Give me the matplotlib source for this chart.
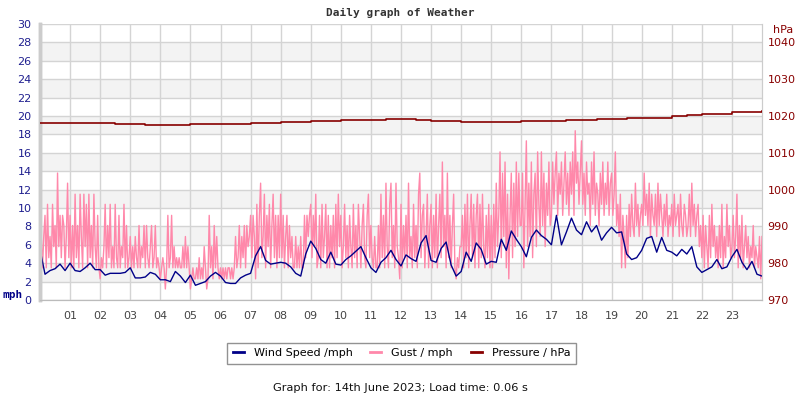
import numpy as np
import matplotlib.pyplot as plt
from matplotlib.lines import Line2D

# Ветер, mph, каждые 10 минут (6 значений на час) + конечная точка
wind_speed = [
    5.5, 2.8, 3.2, 3.4, 3.9, 3.2,
    4.0, 3.2, 3.1, 3.5, 4.0, 3.3,
    3.3, 2.7, 2.9, 2.9, 2.9, 3.0,
    3.5, 2.4, 2.4, 2.5, 3.0, 2.8,
    2.2, 2.2, 2.0, 3.1, 2.6, 1.9,
    2.7, 1.6, 1.8, 2.0, 2.6, 3.0,
    2.6, 1.9, 1.8, 1.8, 2.4, 2.7,
    2.9, 4.8, 5.8, 4.3, 3.9, 4.0,
    4.1, 4.0, 3.6, 2.9, 2.6, 5.0,
    6.4, 5.6, 4.4, 4.0, 5.2, 3.9,
    3.8, 4.4, 4.8, 5.3, 5.8, 4.6,
    3.5, 3.0, 4.1, 4.6, 5.4, 4.4,
    3.7, 4.9, 4.5, 4.2, 6.2, 7.0,
    4.3, 4.1, 5.6, 6.3, 3.8, 2.6,
    3.1, 5.2, 4.2, 6.2, 5.5, 3.9,
    4.2, 4.1, 6.6, 5.4, 7.5, 6.6,
    5.8, 4.7, 6.8, 7.6, 7.0, 6.6,
    6.0, 9.2, 6.0, 7.4, 8.9, 7.6,
    7.1, 8.5, 7.4, 8.1, 6.5, 7.3,
    7.9, 7.3, 7.4, 5.0, 4.4, 4.6,
    5.4, 6.7, 6.9, 5.2, 6.8, 5.4,
    5.2, 4.8, 5.5, 5.0, 5.8, 3.6,
    3.0, 3.3, 3.6, 4.4, 3.4, 3.6,
    4.7, 5.5, 4.1, 3.3, 4.2, 2.8,
    2.6,
]

# Порывы, mph, каждые 2.5 минуты (24 значения на час) + конечная точка
gust = [
    9.2, 6.9, 3.5, 6.9, 9.2, 3.5, 10.4, 4.6, 6.9, 3.5, 10.4, 5.8, 8.1, 3.5, 13.8, 5.8, 9.2, 4.6, 9.2, 8.1, 3.5, 6.9, 12.7, 4.6,
    9.2, 3.5, 8.1, 3.5, 11.5, 4.6, 8.1, 3.5, 11.5, 6.9, 3.5, 11.5, 5.8, 10.4, 3.5, 11.5, 4.6, 8.1, 3.5, 11.5, 5.8, 3.5, 9.2, 3.5,
    2.3, 4.6, 3.5, 5.8, 10.4, 3.5, 8.1, 4.6, 10.4, 3.5, 5.8, 3.5, 10.4, 4.6, 3.5, 9.2, 3.5, 5.8, 4.6, 10.4, 3.5, 8.1, 3.5, 4.6,
    6.9, 3.5, 5.8, 3.5, 6.9, 4.6, 3.5, 8.1, 3.5, 5.8, 4.6, 8.1, 3.5, 8.1, 4.6, 3.5, 5.8, 8.1, 3.5, 4.6, 8.1, 3.5, 4.6, 3.5,
    2.3, 3.5, 4.6, 3.5, 1.2, 3.5, 9.2, 3.5, 4.6, 9.2, 3.5, 5.8, 3.5, 4.6, 3.5, 4.6, 3.5, 3.5, 5.8, 3.5, 6.9, 3.5, 5.8, 3.5,
    1.2, 2.3, 3.5, 2.3, 2.3, 3.5, 2.3, 4.6, 2.3, 3.5, 2.3, 5.8, 3.5, 1.2, 2.3, 9.2, 3.5, 5.8, 2.3, 8.1, 3.5, 6.9, 3.5, 2.3,
    3.5, 2.3, 3.5, 2.3, 3.5, 2.3, 3.5, 3.5, 2.3, 3.5, 2.3, 3.5, 6.9, 3.5, 4.6, 8.1, 3.5, 6.9, 4.6, 8.1, 3.5, 8.1, 5.8, 6.9,
    9.2, 4.6, 9.2, 6.9, 2.3, 10.4, 3.5, 9.2, 12.7, 4.6, 6.9, 11.5, 3.5, 9.2, 5.8, 10.4, 3.5, 8.1, 11.5, 4.6, 9.2, 3.5, 9.2, 4.6,
    11.5, 4.6, 9.2, 3.5, 6.9, 9.2, 3.5, 8.1, 4.6, 6.9, 3.5, 3.5, 6.9, 3.5, 5.8, 3.5, 6.9, 3.5, 3.5, 9.2, 4.6, 9.2, 6.9, 9.2,
    10.4, 4.6, 9.2, 5.8, 11.5, 3.5, 4.6, 9.2, 3.5, 10.4, 4.6, 6.9, 10.4, 3.5, 9.2, 3.5, 8.1, 4.6, 9.2, 3.5, 10.4, 4.6, 11.5, 5.8,
    9.2, 3.5, 5.8, 10.4, 4.6, 8.1, 3.5, 9.2, 5.8, 3.5, 10.4, 4.6, 8.1, 3.5, 10.4, 6.9, 3.5, 8.1, 10.4, 4.6, 3.5, 9.2, 11.5, 4.6,
    8.1, 4.6, 3.5, 6.9, 3.5, 3.5, 8.1, 3.5, 11.5, 4.6, 9.2, 3.5, 12.7, 5.8, 3.5, 10.4, 12.7, 4.6, 8.1, 3.5, 12.7, 5.8, 4.6, 2.3,
    10.4, 3.5, 8.1, 4.6, 9.2, 3.5, 12.7, 4.6, 6.9, 3.5, 10.4, 4.6, 8.1, 3.5, 11.5, 13.8, 4.6, 9.2, 10.4, 3.5, 6.9, 11.5, 3.5, 8.1,
    10.4, 3.5, 9.2, 4.6, 11.5, 3.5, 8.1, 11.5, 4.6, 15.0, 5.8, 9.2, 3.5, 13.8, 4.6, 9.2, 3.5, 8.1, 11.5, 3.5, 2.3, 4.6, 3.5, 5.8,
    5.8, 9.2, 3.5, 10.4, 4.6, 11.5, 3.5, 8.1, 11.5, 4.6, 10.4, 3.5, 9.2, 11.5, 3.5, 10.4, 4.6, 11.5, 5.8, 3.5, 9.2, 4.6, 10.4, 3.5,
    9.2, 3.5, 10.4, 4.6, 12.7, 5.8, 9.2, 16.1, 4.6, 13.8, 6.9, 15.0, 3.5, 11.5, 2.3, 9.2, 13.8, 4.6, 12.7, 5.8, 15.0, 6.9, 13.8, 8.1,
    8.1, 13.8, 3.5, 10.4, 17.3, 5.8, 12.7, 6.9, 15.0, 4.6, 11.5, 13.8, 5.8, 16.1, 10.4, 6.9, 16.1, 8.1, 13.8, 5.8, 12.7, 9.2, 15.0, 8.1,
    9.2, 15.0, 10.4, 13.8, 16.1, 9.2, 13.8, 11.5, 15.0, 9.2, 12.7, 16.1, 10.4, 13.8, 9.2, 15.0, 11.5, 16.1, 9.2, 18.4, 12.7, 15.0, 10.4, 13.8,
    17.3, 10.4, 13.8, 9.2, 15.0, 11.5, 12.7, 8.1, 15.0, 10.4, 16.1, 9.2, 12.7, 11.5, 8.1, 13.8, 10.4, 15.0, 9.2, 12.7, 10.4, 15.0, 9.2, 12.7,
    13.8, 9.2, 11.5, 16.1, 8.1, 10.4, 6.9, 11.5, 3.5, 9.2, 6.9, 3.5, 9.2, 4.6, 10.4, 6.9, 11.5, 8.1, 6.9, 12.7, 8.1, 10.4, 6.9, 9.2,
    10.4, 8.1, 13.8, 9.2, 11.5, 8.1, 12.7, 6.9, 11.5, 9.2, 8.1, 11.5, 6.9, 12.7, 8.1, 11.5, 9.2, 6.9, 10.4, 8.1, 11.5, 6.9, 9.2, 8.1,
    10.4, 6.9, 11.5, 8.1, 9.2, 10.4, 6.9, 11.5, 8.1, 6.9, 10.4, 9.2, 6.9, 8.1, 11.5, 6.9, 12.7, 8.1, 10.4, 6.9, 9.2, 10.4, 5.8, 8.1,
    4.6, 9.2, 3.5, 8.1, 5.8, 3.5, 9.2, 4.6, 10.4, 5.8, 8.1, 4.6, 6.9, 3.5, 8.1, 4.6, 10.4, 3.5, 6.9, 4.6, 10.4, 5.8, 8.1, 4.6,
    5.8, 9.2, 4.6, 6.9, 11.5, 3.5, 8.1, 4.6, 9.2, 3.5, 5.8, 8.1, 4.6, 6.9, 3.5, 5.8, 4.6, 8.1, 3.5, 5.8, 4.6, 3.5, 6.9, 2.3,
    6.9,
]

# Давление, hPa, каждые 30 минут + конечная точка
pressure = [
    1018.0, 1018.0, 1018.0, 1018.0, 1018.0, 1017.9, 1017.7, 1017.6,
    1017.5, 1017.6, 1017.7, 1017.7, 1017.8, 1017.9, 1018.0, 1018.1,
    1018.3, 1018.4, 1018.6, 1018.7, 1018.8, 1018.9, 1019.0, 1019.1,
    1019.1, 1018.9, 1018.7, 1018.6, 1018.5, 1018.5, 1018.5, 1018.5,
    1018.6, 1018.6, 1018.7, 1018.8, 1019.0, 1019.1, 1019.3, 1019.4,
    1019.5, 1019.5, 1020.0, 1020.2, 1020.5, 1020.5, 1021.0, 1021.0,
    1021.3,
]

hour_labels = ["%02d" % h for h in range(1, 24)]

wind_t = np.linspace(0, 24, len(wind_speed))
gust_t = np.linspace(0, 24, len(gust))
pres_t = np.linspace(0, 24, len(pressure))

WIND_C = "#000088"
GUST_C = "#ff88aa"
PRES_C = "#880000"
LEFT_C = "#1f1f8f"

fig = plt.figure(figsize=(8, 4), dpi=100)
ax = fig.add_axes([0.05, 0.25, 0.9025, 0.69])
ax2 = ax.twinx()

# Серые полосы фона
for lo in range(2, 30, 4):
    ax.axhspan(lo, lo + 2, color="#f3f3f3", zorder=0, lw=0)

ax.set_xlim(0, 24)
ax.set_ylim(0, 30)
ax2.set_ylim(970, 1045)

ax.set_yticks(range(0, 31, 2))
ax.set_xticks(range(1, 24))
ax.set_xticklabels(hour_labels)
ax2.set_yticks(range(970, 1041, 10))
ax.grid(True, color="#d4d4d4", lw=1, zorder=1)

ax.plot(gust_t, gust, color=GUST_C, lw=1.0, zorder=3)
ax.plot(wind_t, wind_speed, color=WIND_C, lw=1.0, zorder=4)
ax2.plot(pres_t, pressure, color=PRES_C, lw=1.2, drawstyle="steps-post", zorder=5)

ax.set_zorder(ax2.get_zorder() - 1)
ax.patch.set_visible(True)
ax2.patch.set_visible(False)

ax.tick_params(axis="x", length=0, pad=8, labelsize=8, labelcolor="#444444")
ax.tick_params(axis="y", length=0, pad=6, labelsize=8, labelcolor=LEFT_C)
ax2.tick_params(axis="y", length=0, pad=4, labelsize=8, labelcolor=PRES_C)

for a in (ax, ax2):
    a.spines["top"].set_visible(False)
    a.spines["left"].set_color("#cccccc")
    a.spines["left"].set_linewidth(2.5)
    a.spines["bottom"].set_color("#bbbbbb")
    a.spines["right"].set_color("#cccccc")

fig.text(0.5, 0.967, "Daily graph of Weather", ha="center", va="center",
         family="DejaVu Sans Mono", weight="bold", fontsize=8, color="#333333")
fig.text(0.003, 0.262, "mph", ha="left", va="center", weight="bold",
         family="DejaVu Sans Mono", fontsize=8, color=WIND_C)
fig.text(0.979, 0.925, "hPa", ha="center", va="center",
         fontsize=8, color=PRES_C)

handles = [
    Line2D([], [], color=WIND_C, lw=2),
    Line2D([], [], color=GUST_C, lw=2),
    Line2D([], [], color=PRES_C, lw=2),
]
labels = ["Wind Speed /mph", "Gust / mph", "Pressure / hPa"]
leg = fig.legend(handles, labels, loc="center", bbox_to_anchor=(0.502, 0.117),
                 ncol=3, frameon=True, fancybox=False, fontsize=8,
                 handlelength=1.0, handletextpad=0.9, columnspacing=1.6,
                 borderpad=0.5, edgecolor="#777777")
leg.get_frame().set_linewidth(1)

fig.text(0.5, 0.03, "Graph for: 14th June 2023; Load time: 0.06 s",
         ha="center", va="center", fontsize=8.2, color="#111111")

fig.savefig("out.png", dpi=100)
